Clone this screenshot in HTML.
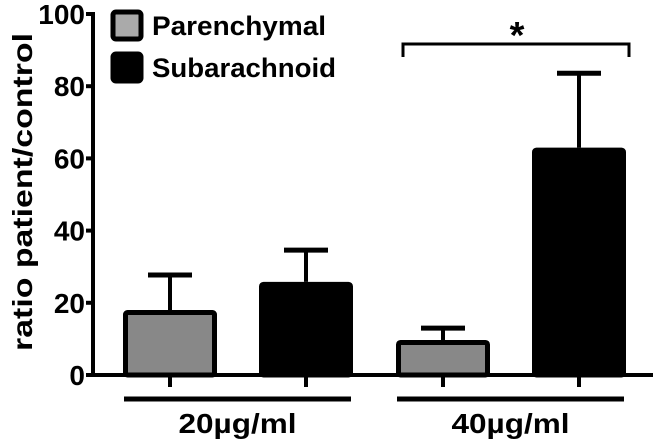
<!DOCTYPE html>
<html><head><meta charset="utf-8"><style>
html,body{margin:0;padding:0;background:#fff;}
svg{display:block;font-family:"Liberation Sans",Arial,sans-serif;font-weight:bold;}
</style></head><body>
<svg id="chart" width="653" height="442" viewBox="0 0 653 442">
<g id="axes"></g><g id="bars"></g>
</svg>
<script>
const categories=["20µg/ml","40µg/ml"];
const series=["Parenchymal","Subarachnoid"];
const parenchymal=[18,9.7];
const subarachnoid=[25.8,63];
const parenchymalErr=[27.7,13];
const subarachnoidErr=[34.6,83.6];
const yTicks=[0,20,40,60,80,100];
const NS="http://www.w3.org/2000/svg";
const svg=document.getElementById('chart');
const y=v=>375-v*3.61;
function mk(tag,attrs,parent,text){const e=document.createElementNS(NS,tag);for(const k in attrs)e.setAttribute(k,attrs[k]);if(text!==undefined)e.textContent=text;(parent||svg).appendChild(e);return e;}
const ax=document.getElementById('axes');
let e=mk('line',{x1:93,y1:y(100)-2,x2:93,y2:y(0)+2,stroke:'#000','stroke-width':4},ax);

e=mk('line',{x1:91,y1:y(0),x2:653,y2:y(0),stroke:'#000','stroke-width':4},ax);

yTicks.forEach(t=>{
  e=mk('line',{x1:86,y1:y(t),x2:95,y2:y(t),stroke:'#000','stroke-width':4},ax);
  
  e=mk('text',{x:85,y:y(t)+10,'text-anchor':'end','font-size':28},ax,String(t));
  
});
e=mk('text',{x:0,y:0,'text-anchor':'middle','font-size':28,textLength:318,lengthAdjust:'spacingAndGlyphs',transform:'translate(32,192) rotate(-90)'},ax,'ratio patient/control');

const bw=94, groupStart=[123,396], gap=136;
const bg=document.getElementById('bars');
categories.forEach((c,i)=>{
  [[parenchymal,parenchymalErr,'#888'],[subarachnoid,subarachnoidErr,'#000']].forEach((s,j)=>{
    const x=groupStart[i]+j*gap;
    const cx=x+bw/2;
    e=mk('line',{x1:cx,y1:y(s[0][i]),x2:cx,y2:y(s[1][i]),stroke:'#000','stroke-width':4},bg);
    
    e=mk('line',{x1:cx-22,y1:y(s[1][i]),x2:cx+22,y2:y(s[1][i]),stroke:'#000','stroke-width':5},bg);
    
    e=mk('rect',{x:x+2.5,y:y(s[0][i])+2.5,width:bw-5,height:y(0)-y(s[0][i])-2.5,fill:s[2],stroke:'#000','stroke-width':5,rx:2},bg);
    
    e=mk('line',{x1:cx,y1:y(0),x2:cx,y2:y(0)+12,stroke:'#000','stroke-width':4},bg);
    
  });
  const gx1=groupStart[i]+1, gx2=groupStart[i]+gap+bw-2;
  e=mk('line',{x1:gx1,y1:399,x2:gx2,y2:399,stroke:'#000','stroke-width':5},bg);
  
  e=mk('text',{x:(gx1+gx2)/2,y:433,'text-anchor':'middle','font-size':28,textLength:118,lengthAdjust:'spacingAndGlyphs'},bg,c);
  
});
e=mk('path',{d:'M403,57 V44 H629 V57',fill:'none',stroke:'#000','stroke-width':3},bg);

e=mk('text',{x:517,y:48,'text-anchor':'middle','font-size':38},bg,'*');

const lc=['#aaa','#000'];
series.forEach((s,j)=>{
  const ly=10+j*42;
  e=mk('rect',{x:113,y:ly+2,width:28,height:27,fill:lc[j],stroke:'#000','stroke-width':5,rx:3},bg);
  
  e=mk('text',{x:152,y:ly+25,'font-size':27,textLength:j==0?174:184,lengthAdjust:'spacingAndGlyphs'},bg,s);
  
});
</script>
</body></html>
